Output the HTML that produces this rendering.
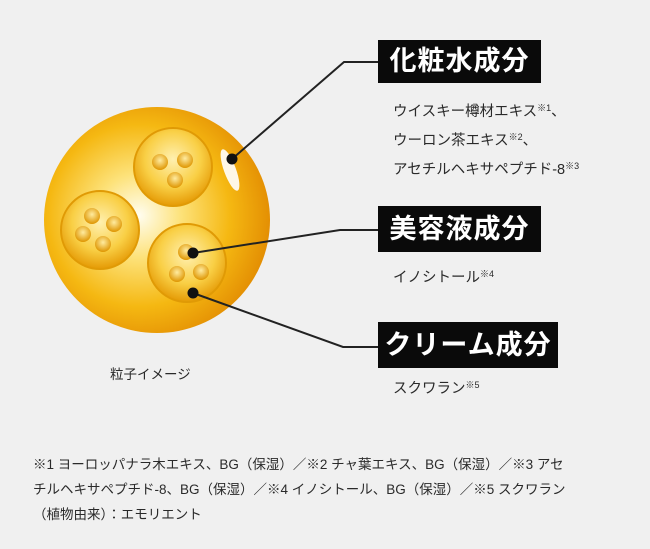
<!DOCTYPE html>
<html><head><meta charset="utf-8"><style>
body{margin:0;width:650px;height:549px;background:#f0f0f0;overflow:hidden;font-family:"Liberation Sans","Noto Sans CJK JP",sans-serif;color:#222}
.box{position:absolute;background:#0a0a0a;color:#fff;font-weight:bold;font-size:27px;line-height:1;padding:0;display:flex;align-items:center;justify-content:center;letter-spacing:1px}
.t{position:absolute;font-size:14.5px;line-height:25px;color:#2a2a2a}
sup{font-size:9px;vertical-align:5px}
</style></head><body>
<svg width="650" height="549" style="position:absolute;left:0;top:0">
<defs>
<radialGradient id="g" cx="0.42" cy="0.48" r="0.62">
<stop offset="0" stop-color="#fffdf0"/><stop offset="0.3" stop-color="#fde27a"/><stop offset="0.65" stop-color="#f5b812"/><stop offset="1" stop-color="#e08600"/></radialGradient>
<radialGradient id="s" cx="0.5" cy="0.4" r="0.6">
<stop offset="0" stop-color="#fff0b0"/><stop offset="0.6" stop-color="#f9cf45"/><stop offset="1" stop-color="#e59a05"/></radialGradient>
<radialGradient id="d" cx="0.5" cy="0.4" r="0.6">
<stop offset="0" stop-color="#ffeca0"/><stop offset="1" stop-color="#de9500"/></radialGradient>
</defs>
<circle cx="157" cy="220" r="113" fill="url(#g)"/>
<ellipse cx="230" cy="170" rx="6" ry="22" fill="#fff" transform="rotate(-20 230 170)" opacity="0.9"/>
<g>
<circle cx="173" cy="167" r="39" fill="url(#s)" stroke="#e09a05" stroke-width="2"/>
<circle cx="160" cy="162" r="8" fill="url(#d)"/><circle cx="185" cy="160" r="8" fill="url(#d)"/><circle cx="175" cy="180" r="8" fill="url(#d)"/>
<circle cx="100" cy="230" r="39" fill="url(#s)" stroke="#e09a05" stroke-width="2"/>
<circle cx="92" cy="216" r="8" fill="url(#d)"/><circle cx="114" cy="224" r="8" fill="url(#d)"/><circle cx="83" cy="234" r="8" fill="url(#d)"/><circle cx="103" cy="244" r="8" fill="url(#d)"/>
<circle cx="187" cy="263" r="39" fill="url(#s)" stroke="#e09a05" stroke-width="2"/>
<circle cx="186" cy="252" r="8" fill="url(#d)"/><circle cx="177" cy="274" r="8" fill="url(#d)"/><circle cx="201" cy="272" r="8" fill="url(#d)"/>
</g>
<g stroke="#222" stroke-width="2" fill="none">
<polyline points="232,159 344,62 380,62"/>
<polyline points="193,253 340,230 380,230"/>
<polyline points="193,293 343,347 380,347"/>
</g>
<circle cx="232" cy="159" r="5.5" fill="#111"/>
<circle cx="193" cy="253" r="5.5" fill="#111"/>
<circle cx="193" cy="293" r="5.5" fill="#111"/>
</svg>
<div class="box" style="left:378px;top:40px;width:163px;height:43px">化粧水成分</div>
<div class="t" style="left:393px;top:96px">ウイスキー樽材エキス<sup>※1</sup>、<br>ウーロン茶エキス<sup>※2</sup>、<br>アセチルヘキサペプチド-8<sup>※3</sup></div>
<div class="box" style="left:378px;top:206px;width:163px;height:46px">美容液成分</div>
<div class="t" style="left:393px;top:262px">イノシトール<sup>※4</sup></div>
<div class="box" style="left:378px;top:322px;width:180px;height:46px">クリーム成分</div>
<div class="t" style="left:393px;top:373px">スクワラン<sup>※5</sup></div>
<div class="t" style="left:110px;top:362px;font-size:13.5px">粒子イメージ</div>
<div class="t" style="left:33px;top:452px;font-size:13.5px;line-height:25px;width:600px">※1 ヨーロッパナラ木エキス、BG（保湿）／※2 チャ葉エキス、BG（保湿）／※3 アセ<br>チルヘキサペプチド-8、BG（保湿）／※4 イノシトール、BG（保湿）／※5 スクワラン<br>（植物由来）：エモリエント</div>
</body></html>
